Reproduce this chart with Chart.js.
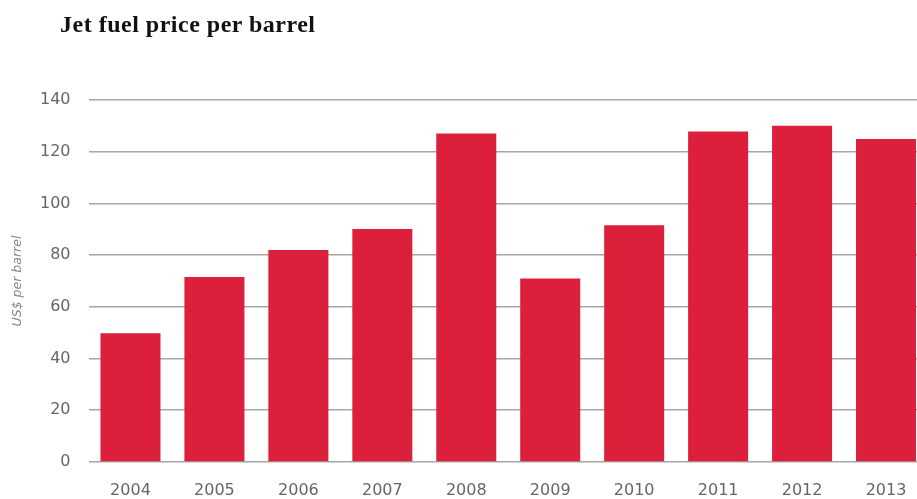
<!DOCTYPE html>
<html>
<head>
<meta charset="utf-8">
<script src="https://cdn.jsdelivr.net/npm/chart.js@4"></script>
<style>
  html, body { margin: 0; padding: 0; background: #fff; overflow: hidden; }
  #wrap { position: relative; width: 917px; height: 499px; overflow: hidden; }
  #title {
    position: absolute; left: 60px; top: 12px; margin: 0;
    font: bold 24px "Liberation Serif", serif; line-height: 24px;
    letter-spacing: 0.5px; color: #111;
  }
  #holder { position: absolute; left: 0; top: 0; width: 928px; height: 499px; }
</style>
</head>
<body>
<div id="wrap">
  <div id="holder"><canvas id="barChart"></canvas></div>
  <h1 id="title">Jet fuel price per barrel</h1>
</div>
<script>
// du lieu doc tu hinh
const years = ["2004", "2005", "2006", "2007", "2008", "2009", "2010", "2011", "2012", "2013"];
const pricePerBarrel = [49.8, 71.5, 82, 90.1, 127, 71, 91.6, 127.8, 130, 124.9];
const yTicks = [0, 20, 40, 60, 80, 100, 120, 140];

const barColor = "#dc203b";
const gridColor = "#a6a6a6";

const ctx = document.getElementById("barChart").getContext("2d");

const config = {
    type: "bar",
    data: {
        labels: years,
        datasets: [
            {
                label: "Jet fuel price",
                data: pricePerBarrel,
                backgroundColor: barColor,
                borderWidth: 0,
                barPercentage: 0.715,
                categoryPercentage: 1,
            },
        ],
    },
    options: {
        responsive: true,
        maintainAspectRatio: false,
        animation: false,
        layout: { padding: { top: 100, right: 0, left: 0, bottom: 0 } },
        plugins: {
            legend: { display: false },
            tooltip: { enabled: false },
        },
        scales: {
            x: {
                grid: { display: false, drawTicks: false },
                border: { display: false },
                ticks: {
                    padding: 19,
                    color: "#666",
                    font: { family: "DejaVu Sans", size: 16 },
                },
                afterFit: (scale) => { scale.height = 37; },
            },
            y: {
                min: 0,
                max: 140,
                afterBuildTicks: (scale) => {
                    scale.ticks = yTicks.map((v) => ({ value: v }));
                },
                grid: { color: gridColor, lineWidth: 1.6, drawTicks: false },
                border: { display: false },
                ticks: {
                    padding: 18,
                    color: "#666",
                    font: { family: "DejaVu Sans", size: 16 },
                },
                title: {
                    display: true,
                    text: "US$ per barrel",
                    color: "#888",
                    padding: { top: 10, bottom: 0 },
                    font: { family: "DejaVu Sans", size: 12.5, style: "italic" },
                },
                afterFit: (scale) => { scale.width = 88.5; },
            },
        },
    },
};

const barChart = new Chart(ctx, config);
</script>
</body>
</html>
